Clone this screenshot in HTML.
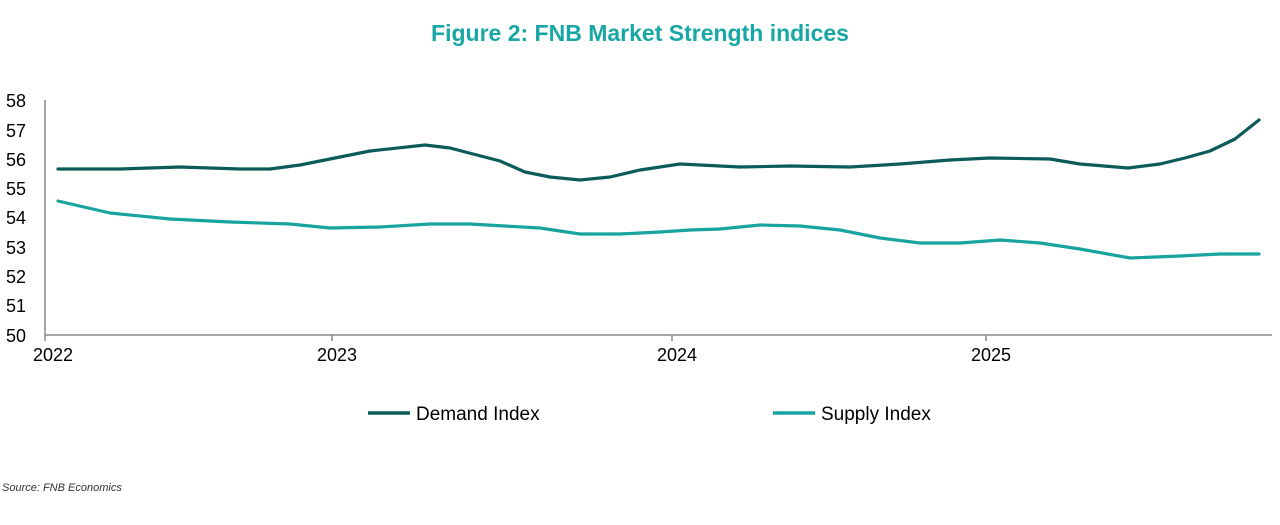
<!DOCTYPE html>
<html><head><style>
body{margin:0;background:#fff;width:1280px;height:520px;overflow:hidden;font-family:"Liberation Sans",sans-serif}
</style></head><body>
<svg width="1280" height="520" xmlns="http://www.w3.org/2000/svg" font-family="Liberation Sans, sans-serif">
<text x="640" y="41" text-anchor="middle" font-size="23" font-weight="bold" fill="#17a7a5">Figure 2: FNB Market Strength indices</text>
<g font-size="18" fill="#000" text-anchor="end">
<text x="26" y="107">58</text><text x="26" y="137">57</text><text x="26" y="166">56</text><text x="26" y="195">55</text>
<text x="26" y="224">54</text><text x="26" y="254">53</text><text x="26" y="283">52</text><text x="26" y="312">51</text><text x="26" y="342">50</text>
</g>
<line x1="45" y1="100" x2="45" y2="336" stroke="#888" stroke-width="1.5"/>
<line x1="45" y1="335" x2="1272" y2="335" stroke="#888" stroke-width="1.5"/>
<g stroke="#888" stroke-width="1.5"><line x1="45" y1="335" x2="45" y2="341"/><line x1="332" y1="335" x2="332" y2="341"/><line x1="672" y1="335" x2="672" y2="341"/><line x1="986" y1="335" x2="986" y2="341"/></g>
<g font-size="18" fill="#000" text-anchor="middle">
<text x="53" y="361">2022</text><text x="337" y="361">2023</text><text x="677" y="361">2024</text><text x="991" y="361">2025</text>
</g>
<polyline fill="none" stroke="#0b5c58" stroke-width="3.2" stroke-linejoin="round" stroke-linecap="round" points="58,169 120,169 180,167 240,169 270,169 300,165 330,159 370,151 425,145 450,148 500,161 525,172 550,177 580,180 610,177 640,170 680,164 740,167 790,166 850,167 900,164 950,160 990,158 1050,159 1080,164 1128,168 1160,164 1185,158 1210,151 1235,139 1259,120"/>
<polyline fill="none" stroke="#17a3a0" stroke-width="3.2" stroke-linejoin="round" stroke-linecap="round" points="58,201 110,213 170,219 230,222 290,224 330,228 380,227 430,224 470,224 540,228 580,234 620,234 660,232 690,230 720,229 760,225 800,226 840,230 880,238 920,243 960,243 1000,240 1040,243 1080,249 1130,258 1180,256 1220,254 1259,254"/>
<line x1="368" y1="413" x2="410" y2="413" stroke="#0b5c58" stroke-width="3.5"/>
<text x="416" y="420" font-size="19">Demand Index</text>
<line x1="773" y1="413" x2="815" y2="413" stroke="#17a3a0" stroke-width="3.5"/>
<text x="821" y="420" font-size="19">Supply Index</text>
<text x="2" y="491" font-size="11" font-style="italic" fill="#333">Source: FNB Economics</text>
</svg>
</body></html>
